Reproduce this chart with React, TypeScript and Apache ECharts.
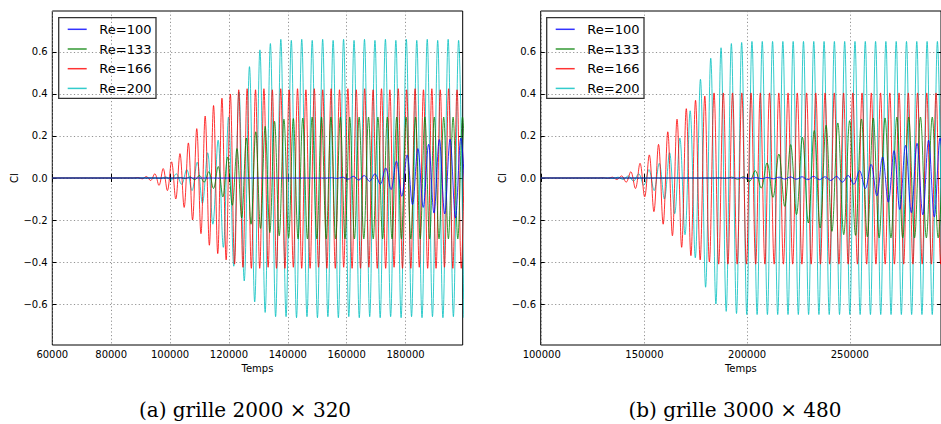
import React, { useEffect, useRef } from "react";
import * as echarts from "echarts";

const SERIES_NAMES = ["Re=100", "Re=133", "Re=166", "Re=200"];
const COLORS = ["#0000ff", "#008000", "#ff0000", "#00bfbf"];

const A_X_TICKS = [60000, 80000, 100000, 120000, 140000, 160000, 180000];
const B_X_TICKS = [100000, 150000, 200000, 250000];
const Y_TICKS = [-0.6, -0.4, -0.2, 0, 0.2, 0.4, 0.6];

const CAPTION_A = "(a) grille 2000 \u00d7 320";
const CAPTION_B = "(b) grille 3000 \u00d7 480";

// ---- Panel (a): grille 2000 x 320 ---- extrema
const A_RE100_T0 = 154986;
const A_RE100_HALF = 1824;
const A_RE100 = [0.001, -0.002, 0.004, -0.006, 0.008, -0.01, 0.012, -0.016, 0.02, -0.03, 0.048, -0.055, 0.08, -0.087, 0.11, -0.127, 0.14, -0.14, 0.16, -0.167, 0.183, -0.171, 0.185, -0.19, 0.19, -0.19];

const A_RE133_T0 = 103571;
const A_RE133_HALF = 1596;
const A_RE133 = [0.002, -0.003, 0.005, -0.008, 0.012, -0.02, 0.03, -0.05, 0.055, -0.09, 0.1, -0.13, 0.14, -0.19, 0.19, -0.22, 0.22, -0.24, 0.246, -0.26, 0.27, -0.275, 0.28, -0.285, 0.283, -0.29, 0.285,
  -0.29, 0.29, -0.29, 0.29, -0.29, 0.29, -0.29, 0.29, -0.29, 0.29, -0.29, 0.29, -0.29, 0.29, -0.29, 0.29, -0.29, 0.29, -0.29, 0.29, -0.29, 0.29, -0.29, 0.29, -0.29, 0.29, -0.29, 0.29, -0.29, 0.29, -0.29, 0.29, -0.29, 0.29, -0.29];

const A_RE166_T0 = 89104;
const A_RE166_HALF = 1426;
const A_RE166 = [0.002, -0.004, 0.007, -0.012, 0.02, -0.035, 0.045, -0.06, 0.077, -0.1, 0.116, -0.14, 0.167, -0.2, 0.235, -0.265, 0.295, -0.32, 0.345, -0.36, 0.38, -0.39, 0.4, -0.41, 0.42, -0.425,
  0.425, -0.43, 0.42, -0.43, 0.425, -0.425, 0.42, -0.43, 0.425, -0.43, 0.42, -0.425, 0.425, -0.43, 0.42, -0.43, 0.425, -0.425, 0.42, -0.43, 0.425, -0.43, 0.42, -0.425, 0.425, -0.43, 0.42, -0.43, 0.425, -0.425, 0.42, -0.43, 0.425, -0.43, 0.42, -0.425, 0.425, -0.43, 0.42, -0.43, 0.425, -0.425, 0.42, -0.43, 0.425, -0.43, 0.42, -0.425, 0.425, -0.43, 0.42, -0.43, 0.425];

const A_RE200_T0 = 96779;
const A_RE200_HALF = 1776;
const A_RE200 = [-0.003, 0.005, -0.01, 0.02, -0.03, 0.04, -0.06, 0.075, -0.12, 0.12, -0.22, 0.18, -0.33, 0.29, -0.42, 0.41, -0.49, 0.53, -0.59, 0.61, -0.64, 0.64, -0.66, 0.66,
  -0.66, 0.655, -0.665, 0.66, -0.66, 0.655, -0.665, 0.66, -0.66, 0.655, -0.665, 0.66, -0.66, 0.655, -0.665, 0.66, -0.66, 0.655, -0.665, 0.66, -0.66, 0.655, -0.665, 0.66, -0.66, 0.655, -0.665, 0.66, -0.66, 0.655, -0.665, 0.66, -0.66, 0.655, -0.665];

// ---- Panel (b): grille 3000 x 480 ----
const B_RE100_T0 = 198743;
const B_RE100_HALF = 2800;
const B_RE100 = [0.001, -0.002, 0.002, -0.003, 0.003, -0.004, 0.004, -0.005, 0.005, -0.006, 0.006, -0.008, 0.008, -0.008, 0.006, -0.012, 0.008, -0.02, 0.012, -0.03, 0.035, -0.05, 0.065, -0.085, 0.1, -0.115, 0.13, -0.15, 0.155, -0.165, 0.165, -0.175, 0.18, -0.185, 0.19, -0.19];

const B_RE133_T0 = 186717;
const B_RE133_HALF = 2873;
const B_RE133 = [0.001, -0.002, 0.004, -0.006, 0.006, -0.016, 0.035, -0.048, 0.072, -0.092, 0.114, -0.135, 0.159, -0.174, 0.194, -0.214, 0.226, -0.238, 0.251, -0.254, 0.262, -0.27, 0.273, -0.273, 0.281, -0.28, 0.285, -0.285, 0.286, -0.285, 0.29, -0.285, 0.29, -0.285, 0.29, -0.285, 0.29, -0.285, 0.29];

const B_RE166_T0 = 129847;
const B_RE166_HALF = 2252;
const B_RE166 = [0.001, -0.002, 0.004, -0.007, 0.01, -0.02, 0.03, -0.05, 0.07, -0.09, 0.11, -0.16, 0.16, -0.22, 0.22, -0.275, 0.28, -0.33, 0.33, -0.37, 0.37, -0.39, 0.39, -0.4, 0.405, -0.41,
  0.405, -0.41, 0.405, -0.41, 0.405, -0.41, 0.405, -0.41, 0.405, -0.41, 0.405, -0.41, 0.405, -0.41, 0.405, -0.41, 0.405, -0.41, 0.405, -0.41, 0.405, -0.41, 0.405, -0.41, 0.405, -0.41, 0.405, -0.41, 0.405, -0.41, 0.405, -0.41, 0.405, -0.41, 0.405, -0.41, 0.405, -0.41, 0.405, -0.41, 0.405, -0.41, 0.405, -0.41, 0.405, -0.41, 0.405, -0.41, 0.405];

const B_RE200_T0 = 134643;
const B_RE200_HALF = 2508;
const B_RE200 = [-0.002, 0.004, -0.007, 0.01, -0.015, 0.02, -0.035, 0.04, -0.06, 0.07, -0.1, 0.12, -0.17, 0.19, -0.27, 0.32, -0.38, 0.47, -0.52, 0.57, -0.6, 0.62, -0.635, 0.64, -0.645, 0.645,
  -0.65, 0.65, -0.65, 0.65, -0.65, 0.65, -0.65, 0.65, -0.65, 0.65, -0.65, 0.65, -0.65, 0.65, -0.65, 0.65, -0.65, 0.65, -0.65, 0.65, -0.65, 0.65, -0.65, 0.65, -0.65, 0.65, -0.65, 0.65, -0.65, 0.65, -0.65, 0.65, -0.65, 0.65, -0.65, 0.65, -0.65, 0.65, -0.65];

const A_XMIN = 60000, A_XMAX = 199400;
const B_XMIN = 99500, B_XMAX = 294400;
const Y_MIN = -0.795, Y_MAX = 0.795;

function wave(xmin: number, t0: number, half: number, vals: number[]) {
  const pts: number[][] = [[xmin, 0], [t0 - half, 0]];
  vals.forEach((v, i) => pts.push([t0 + i * half, v]));
  return pts;
}

const FONT = "DejaVu Sans";
const LINE_OPACITY = 0.8;

function legendGraphic(x: number, y: number) {
  const children: any[] = [
    { type: "rect", shape: { x: 0, y: 0, width: 97.3, height: 80.6 }, style: { fill: "#fff", stroke: "#333", lineWidth: 1.3 } },
  ];
  SERIES_NAMES.forEach((name, i) => {
    const cy = 11.6 + i * 19.7;
    children.push({ type: "line", shape: { x1: 9, y1: cy, x2: 28, y2: cy }, style: { stroke: COLORS[i], lineWidth: 1.5, opacity: LINE_OPACITY } });
    children.push({ type: "text", x: 40.6, y: cy, style: { text: name, fontSize: 13, fontFamily: FONT, fill: "#000", align: "left", verticalAlign: "middle" } });
  });
  return { type: "group", x, y, z: 100, children };
}

export default function App() {
  const ref = useRef<HTMLDivElement>(null);
  useEffect(() => {
    if (!ref.current) return;
    const chart = echarts.init(ref.current, null, { renderer: "svg" });

    const panels = [
      { xmin: A_XMIN, xmax: A_XMAX, ticks: A_X_TICKS, data: [
        [A_RE100_T0, A_RE100_HALF, A_RE100], [A_RE133_T0, A_RE133_HALF, A_RE133],
        [A_RE166_T0, A_RE166_HALF, A_RE166], [A_RE200_T0, A_RE200_HALF, A_RE200]] },
      { xmin: B_XMIN, xmax: B_XMAX, ticks: B_X_TICKS, data: [
        [B_RE100_T0, B_RE100_HALF, B_RE100], [B_RE133_T0, B_RE133_HALF, B_RE133],
        [B_RE166_T0, B_RE166_HALF, B_RE166], [B_RE200_T0, B_RE200_HALF, B_RE200]] },
    ];

    const grids = [
      { left: 52.3, top: 11, width: 410.4, height: 334, show: true, borderColor: "#000", borderWidth: 1, backgroundColor: "transparent" },
      { left: 540.7, top: 11, width: 400.3, height: 334, show: true, borderColor: "#000", borderWidth: 1, backgroundColor: "transparent" },
    ];

    const tickStyle = { show: true, inside: true, length: 4, lineStyle: { color: "#000", width: 1 } };
    const gridLine = { show: true, lineStyle: { color: "#777", width: 0.8, type: [1.2, 2.4] } };
    const labelFont = { fontFamily: FONT, fontSize: 10, color: "#000" };

    const xAxis: any[] = [];
    const yAxis: any[] = [];
    panels.forEach((p, gi) => {
      xAxis.push({
        type: "value", gridIndex: gi, min: p.xmin, max: p.xmax, position: "bottom",
        name: "Temps", nameLocation: "middle", nameGap: 16.5,
        nameTextStyle: labelFont,
        axisLine: { show: false },
        axisTick: { ...tickStyle, customValues: p.ticks },
        axisLabel: { customValues: p.ticks, formatter: (v: number) => String(v), ...labelFont, margin: 4 },
        splitLine: gridLine,
      });
      xAxis.push({
        type: "value", gridIndex: gi, min: p.xmin, max: p.xmax, position: "top",
        axisLine: { show: false },
        axisTick: { ...tickStyle, customValues: p.ticks },
        axisLabel: { show: false },
        splitLine: { show: false },
      });
      yAxis.push({
        type: "value", gridIndex: gi, min: Y_MIN, max: Y_MAX, position: "left",
        name: "Cl", nameLocation: "middle", nameGap: 32,
        nameTextStyle: labelFont,
        axisLine: { show: false },
        axisTick: { ...tickStyle, customValues: Y_TICKS },
        axisLabel: { customValues: Y_TICKS, formatter: (v: number) => v.toFixed(1).replace("-", "\u2212"), ...labelFont, margin: 4.6 },
        splitLine: gridLine,
      });
      yAxis.push({
        type: "value", gridIndex: gi, min: Y_MIN, max: Y_MAX, position: "right",
        axisLine: { show: false },
        axisTick: { ...tickStyle, customValues: Y_TICKS },
        axisLabel: { show: false },
        splitLine: { show: false },
      });
    });

    const series: any[] = [];
    const zOrder = [4, 3, 2, 1];
    panels.forEach((p, gi) => {
      p.data.forEach((d: any, si) => {
        series.push({
          type: "line",
          name: SERIES_NAMES[si],
          xAxisIndex: gi * 2,
          yAxisIndex: gi * 2,
          data: wave(p.xmin, d[0], d[1], d[2]),
          showSymbol: false,
          symbol: "none",
          smooth: 0.36,
          z: zOrder[si],
          lineStyle: { color: COLORS[si], width: 1, opacity: LINE_OPACITY },
          itemStyle: { color: COLORS[si] },
          emphasis: { disabled: true },
          clip: true,
        });
      });
    });

    chart.setOption({
      animation: false,
      backgroundColor: "#fff",
      grid: grids,
      xAxis,
      yAxis,
      series,
      graphic: [
        legendGraphic(58.7, 17.7),
        legendGraphic(546.7, 17.7),
        { type: "text", x: 245, y: 410, style: { text: CAPTION_A, fontSize: 20, fontFamily: "DejaVu Serif", fill: "#000", align: "center", verticalAlign: "middle" } },
        { type: "text", x: 735, y: 410, style: { text: CAPTION_B, fontSize: 20, fontFamily: "DejaVu Serif", fill: "#000", align: "center", verticalAlign: "middle" } },
      ],
    });

    return () => chart.dispose();
  }, []);

  return <div ref={ref} style={{ position: "fixed", left: 0, top: 0, width: 941, height: 424 }} />;
}
